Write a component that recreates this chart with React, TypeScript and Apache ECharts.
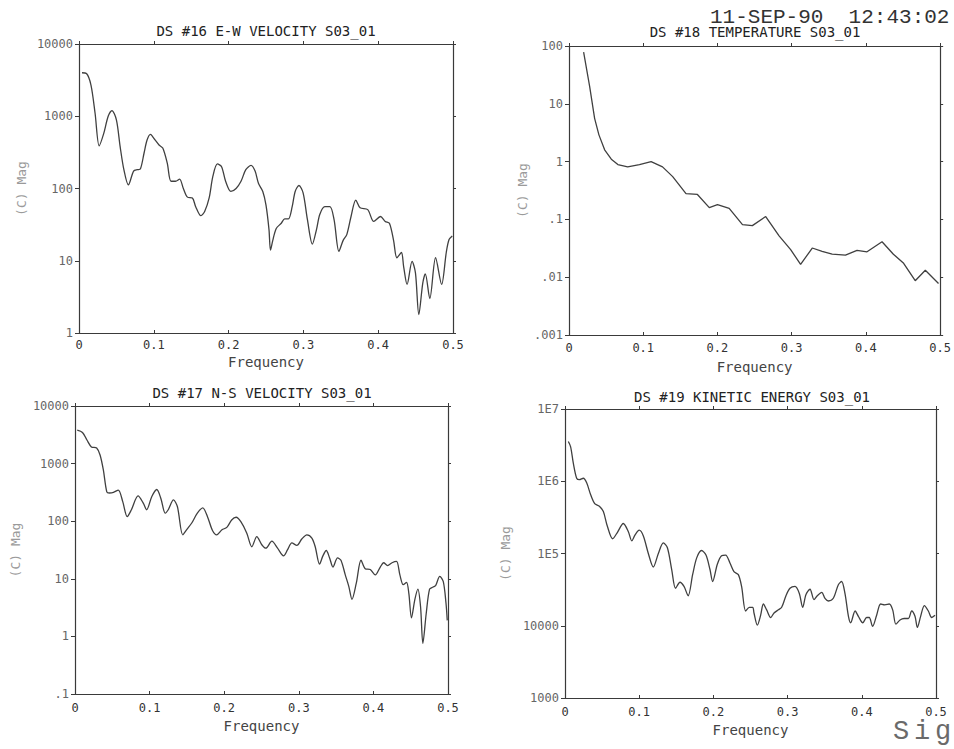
import React, { useEffect, useRef } from "react";
import * as echarts from "echarts";

// ---- spectra: frequency (cycles/sample) and magnitude ----
const ewFreq = [0.004, 0.010, 0.016, 0.0215, 0.027, 0.033, 0.039, 0.044, 0.050, 0.055, 0.060, 0.066, 0.073, 0.078, 0.082, 0.087, 0.091, 0.0955, 0.101, 0.107, 0.112, 0.118, 0.123, 0.129, 0.1345, 0.1395, 0.145, 0.1516, 0.156, 0.163, 0.168, 0.174, 0.179, 0.185, 0.1906, 0.196, 0.203, 0.210, 0.2166, 0.223, 0.230, 0.2354, 0.240, 0.2457, 0.250, 0.254, 0.256, 0.259, 0.2637, 0.2704, 0.275, 0.280, 0.285, 0.289, 0.294, 0.2996, 0.3054, 0.312, 0.3175, 0.322, 0.3287, 0.3354, 0.341, 0.3475, 0.353, 0.358, 0.3637, 0.370, 0.3758, 0.386, 0.394, 0.403, 0.4094, 0.415, 0.4206, 0.425, 0.431, 0.434, 0.4386, 0.4453, 0.4498, 0.4543, 0.4596, 0.463, 0.469, 0.4767, 0.4848, 0.491, 0.4946, 0.499];
const ewMag = [4000, 3900, 2700, 1100, 390, 575, 1000, 1200, 890, 380, 182, 112, 174, 182, 186, 310, 468, 560, 480, 400, 363, 224, 126, 126, 135, 100, 76, 74, 56, 42, 48, 74, 148, 219, 200, 126, 91, 100, 126, 182, 209, 174, 117, 91, 59, 27, 14, 19, 28, 33, 38, 38, 56, 91, 110, 87, 37, 17, 27, 44, 56, 56, 37, 13.5, 19, 23, 41, 69, 54, 51, 35, 41, 35, 33, 19, 11, 13, 8.3, 4.7, 9.8, 6.8, 1.8, 4.9, 6.6, 3.0, 11, 4.7, 13, 19.5, 22];

const tempFreq = [0.0197, 0.0278, 0.0345, 0.0403, 0.048, 0.057, 0.0658, 0.079, 0.0949, 0.1106, 0.126, 0.1397, 0.1576, 0.173, 0.189, 0.200, 0.2158, 0.2337, 0.247, 0.265, 0.283, 0.2986, 0.312, 0.3277, 0.341, 0.3545, 0.3724, 0.388, 0.4015, 0.4217, 0.437, 0.4508, 0.4664, 0.48, 0.4978];
const tempMag = [78, 20, 5.6, 2.9, 1.6, 1.1, 0.89, 0.81, 0.89, 1.0, 0.81, 0.55, 0.28, 0.27, 0.16, 0.18, 0.155, 0.081, 0.078, 0.112, 0.052, 0.030, 0.0166, 0.032, 0.028, 0.025, 0.024, 0.029, 0.0275, 0.041, 0.025, 0.0174, 0.0087, 0.0132, 0.0078];

const nsFreq = [0.003, 0.010, 0.016, 0.022, 0.029, 0.0336, 0.038, 0.0426, 0.046, 0.0515, 0.058, 0.064, 0.070, 0.0756, 0.0845, 0.0917, 0.096, 0.103, 0.1096, 0.115, 0.121, 0.125, 0.132, 0.1373, 0.1445, 0.150, 0.1565, 0.164, 0.1713, 0.1776, 0.1843, 0.190, 0.197, 0.2035, 0.210, 0.216, 0.2223, 0.2303, 0.237, 0.2437, 0.2504, 0.2558, 0.2639, 0.2715, 0.2795, 0.285, 0.2907, 0.2974, 0.304, 0.3108, 0.3175, 0.322, 0.3278, 0.3323, 0.3368, 0.3413, 0.3458, 0.352, 0.3565, 0.3623, 0.367, 0.3713, 0.377, 0.3834, 0.389, 0.3958, 0.4025, 0.4092, 0.4137, 0.419, 0.425, 0.431, 0.4355, 0.44, 0.4444, 0.4475, 0.451, 0.4556, 0.4596, 0.4632, 0.4663, 0.4708, 0.4753, 0.480, 0.4834, 0.489, 0.4937, 0.4973, 0.499];
const nsMag = [3800, 3470, 2570, 1950, 1860, 1410, 776, 324, 309, 316, 347, 219, 120, 158, 275, 204, 158, 269, 355, 251, 138, 158, 234, 178, 58, 72, 93, 138, 170, 120, 69, 58, 71, 78, 105, 117, 98, 62, 36, 54, 39, 34, 45, 34, 25, 32, 42, 38, 49, 58, 51, 36, 18, 25, 31, 23, 16, 23, 21, 11.7, 7.4, 4.4, 8.3, 21, 15, 14.5, 11.7, 16, 19, 17, 19, 20, 11.7, 7.9, 8.7, 5.6, 2.1, 4.4, 6.6, 3.3, 0.76, 2.5, 6.6, 7.2, 7.6, 11, 8.9, 3.8, 1.9];

const keFreq = [0.0045, 0.0076, 0.0112, 0.0157, 0.0193, 0.0247, 0.0292, 0.0346, 0.040, 0.0463, 0.0517, 0.057, 0.0642, 0.0705, 0.0786, 0.0854, 0.090, 0.0943, 0.100, 0.1056, 0.1123, 0.119, 0.1258, 0.1325, 0.138, 0.1438, 0.149, 0.155, 0.1604, 0.166, 0.172, 0.1775, 0.184, 0.190, 0.1954, 0.199, 0.2053, 0.211, 0.2165, 0.2223, 0.2277, 0.2336, 0.238, 0.2435, 0.2484, 0.253, 0.2547, 0.2592, 0.2637, 0.2673, 0.2718, 0.2772, 0.2817, 0.2875, 0.292, 0.2978, 0.3032, 0.310, 0.3158, 0.3203, 0.3248, 0.3302, 0.3356, 0.340, 0.346, 0.3504, 0.355, 0.3616, 0.3684, 0.3728, 0.3773, 0.382, 0.385, 0.391, 0.3954, 0.4013, 0.4066, 0.410, 0.4146, 0.420, 0.4254, 0.431, 0.437, 0.4416, 0.446, 0.4515, 0.457, 0.4627, 0.4672, 0.4717, 0.4749, 0.4793, 0.4843, 0.4897, 0.4942, 0.4987];
const keMag = [3.55e6, 3.0e6, 1.78e6, 1.1e6, 1.05e6, 1.1e6, 9.5e5, 6.5e5, 4.9e5, 4.5e5, 3.8e5, 2.4e5, 1.6e5, 1.95e5, 2.6e5, 2.0e5, 1.5e5, 1.8e5, 2.1e5, 1.75e5, 1.0e5, 6.5e4, 1.0e5, 1.4e5, 1.2e5, 6.0e4, 3.3e4, 4.0e4, 3.5e4, 2.6e4, 5.1e4, 8.7e4, 1.1e5, 9.5e4, 6.0e4, 4.1e4, 7.1e4, 9.3e4, 9.5e4, 7.4e4, 5.6e4, 5.1e4, 3.5e4, 1.6e4, 1.8e4, 1.8e4, 1.5e4, 1.02e4, 1.4e4, 2.0e4, 1.66e4, 1.3e4, 1.5e4, 1.66e4, 1.8e4, 2.6e4, 3.3e4, 3.5e4, 2.8e4, 1.8e4, 2.7e4, 3.2e4, 2.3e4, 2.6e4, 2.9e4, 2.4e4, 2.2e4, 2.4e4, 3.7e4, 4.1e4, 2.8e4, 1.35e4, 1.1e4, 1.6e4, 1.35e4, 1.1e4, 1.3e4, 1.3e4, 9.8e3, 1.4e4, 2.0e4, 1.95e4, 2.0e4, 1.66e4, 1.05e4, 1.2e4, 1.26e4, 1.26e4, 1.6e4, 1.35e4, 9.5e3, 1.35e4, 1.9e4, 1.6e4, 1.3e4, 1.4e4];

// ---- titles and tick labels (lowest decade first) ----
const titles = [
  "DS #16 E-W VELOCITY S03_01",
  "DS #18 TEMPERATURE S03_01",
  "DS #17 N-S VELOCITY S03_01",
  "DS #19 KINETIC ENERGY S03_01",
];
const ewTicks = ["1", "10", "100", "1000", "10000"];
const tempTicks = [".001", ".01", ".1", "1", "10", "100"];
const nsTicks = [".1", "1", "10", "100", "1000", "10000"];
const keTicks = ["1000", "10000", "1E5", "1E6", "1E7"];
const freqTicks = ["0", "0.1", "0.2", "0.3", "0.4", "0.5"];
const xName = "Frequency";
const yName = "(C) Mag";
const stamp = "11-SEP-90  12:43:02";
const corner = ["S", "i", "g"];

const MONO = '"DejaVu Sans Mono", "Liberation Mono", monospace';
const THIN = '"Liberation Mono", "DejaVu Sans Mono", monospace';
const INK = "#3a3a3a";

const panels = [
  { freq: ewFreq, mag: ewMag, ticks: ewTicks, lo: 1, hi: 10000, smooth: 0.3,
    box: { left: 79, top: 44, width: 374, height: 289 }, tx: 266, ty: 24, yGap: 51, xGap: 22, lm: 6 },
  { freq: tempFreq, mag: tempMag, ticks: tempTicks, lo: 0.001, hi: 100, smooth: 0,
    box: { left: 569, top: 46, width: 373, height: 289 }, tx: 755, ty: 25, yGap: 40, xGap: 25, lm: 7 },
  { freq: nsFreq, mag: nsMag, ticks: nsTicks, lo: 0.1, hi: 10000, smooth: 0.3,
    box: { left: 75, top: 406, width: 373, height: 288 }, tx: 262, ty: 386, yGap: 53, xGap: 25, lm: 8 },
  { freq: keFreq, mag: keMag, ticks: keTicks, lo: 1000, hi: 1e7, smooth: 0.3,
    box: { left: 565, top: 409, width: 371, height: 289 }, tx: 752, ty: 390, yGap: 53, xGap: 25, lm: 8 },
];

function buildOption() {
  const axisLine = { show: true, onZero: false, lineStyle: { color: INK, width: 1.2 } };
  const grid: any[] = [];
  const xBottom: any[] = [];
  const xTop: any[] = [];
  const yLeft: any[] = [];
  const yRight: any[] = [];
  const series: any[] = [];
  const title: any[] = [];

  panels.forEach((p, i) => {
    grid.push({ ...p.box, containLabel: false });
    title.push({
      text: titles[i], left: p.tx, top: p.ty, textAlign: "center", padding: 0,
      textStyle: { fontFamily: MONO, fontSize: 14, fontWeight: "normal", color: "#222" },
    });
    const lowExp = Math.round(Math.log10(p.lo));
    const xCommon = { type: "value", gridIndex: i, min: 0, max: 0.5, interval: 0.1, splitLine: { show: false }, axisLine };
    xBottom.push({
      ...xCommon, position: "bottom",
      name: xName, nameLocation: "middle", nameGap: p.xGap,
      nameTextStyle: { fontFamily: MONO, fontSize: 14, color: "#444" },
      axisTick: { show: true, inside: true, length: 3, lineStyle: { color: INK } },
      axisLabel: {
        margin: p.lm, fontFamily: MONO, fontSize: 12, color: "#333",
        formatter: (v: number) => freqTicks[Math.round(v * 10)],
      },
    });
    xTop.push({
      ...xCommon, position: "top",
      axisTick: { show: true, inside: false, length: 3, lineStyle: { color: INK } },
      axisLabel: { show: false },
    });
    const yCommon = { type: "log", logBase: 10, gridIndex: i, min: p.lo, max: p.hi, splitLine: { show: false }, axisLine };
    yLeft.push({
      ...yCommon, position: "left",
      name: yName, nameLocation: "middle", nameRotate: 90, nameGap: p.yGap,
      nameTextStyle: { fontFamily: MONO, fontSize: 13, color: "#9a9a9a" },
      axisTick: { show: true, inside: false, length: 4, lineStyle: { color: INK } },
      axisLabel: {
        margin: 6, fontFamily: MONO, fontSize: 12, color: "#666",
        formatter: (v: number) => p.ticks[Math.round(Math.log10(v)) - lowExp] ?? "",
      },
    });
    yRight.push({
      ...yCommon, position: "right",
      axisTick: { show: true, inside: false, length: 3, lineStyle: { color: INK } },
      axisLabel: { show: false },
    });
    series.push({
      type: "line", xAxisIndex: i, yAxisIndex: i,
      data: p.freq.map((f, k) => [f, p.mag[k]]),
      showSymbol: false, smooth: p.smooth, clip: true,
      lineStyle: { color: "#404040", width: 1.3 },
    });
  });

  return {
    animation: false,
    backgroundColor: "#ffffff",
    title,
    grid,
    xAxis: [...xBottom, ...xTop],
    yAxis: [...yLeft, ...yRight],
    series,
    graphic: [
      {
        type: "text", left: 710, top: 7,
        style: { text: stamp, fontFamily: THIN, fontSize: 21, fill: "#333" },
      },
      ...corner.map((c, k) => ({
        type: "text", left: 893 + k * 21, top: 718,
        style: { text: c, fontFamily: THIN, fontSize: 27, fill: "#6a6a6a" },
      })),
    ],
  };
}

export default function App() {
  const ref = useRef<HTMLDivElement>(null);
  useEffect(() => {
    if (!ref.current) return;
    const chart = echarts.init(ref.current, undefined, { renderer: "svg" });
    chart.setOption(buildOption() as any);
    return () => chart.dispose();
  }, []);
  return (
    <div
      ref={ref}
      style={{ position: "fixed", left: 0, top: 0, width: 954, height: 749, background: "#fff" }}
    />
  );
}
